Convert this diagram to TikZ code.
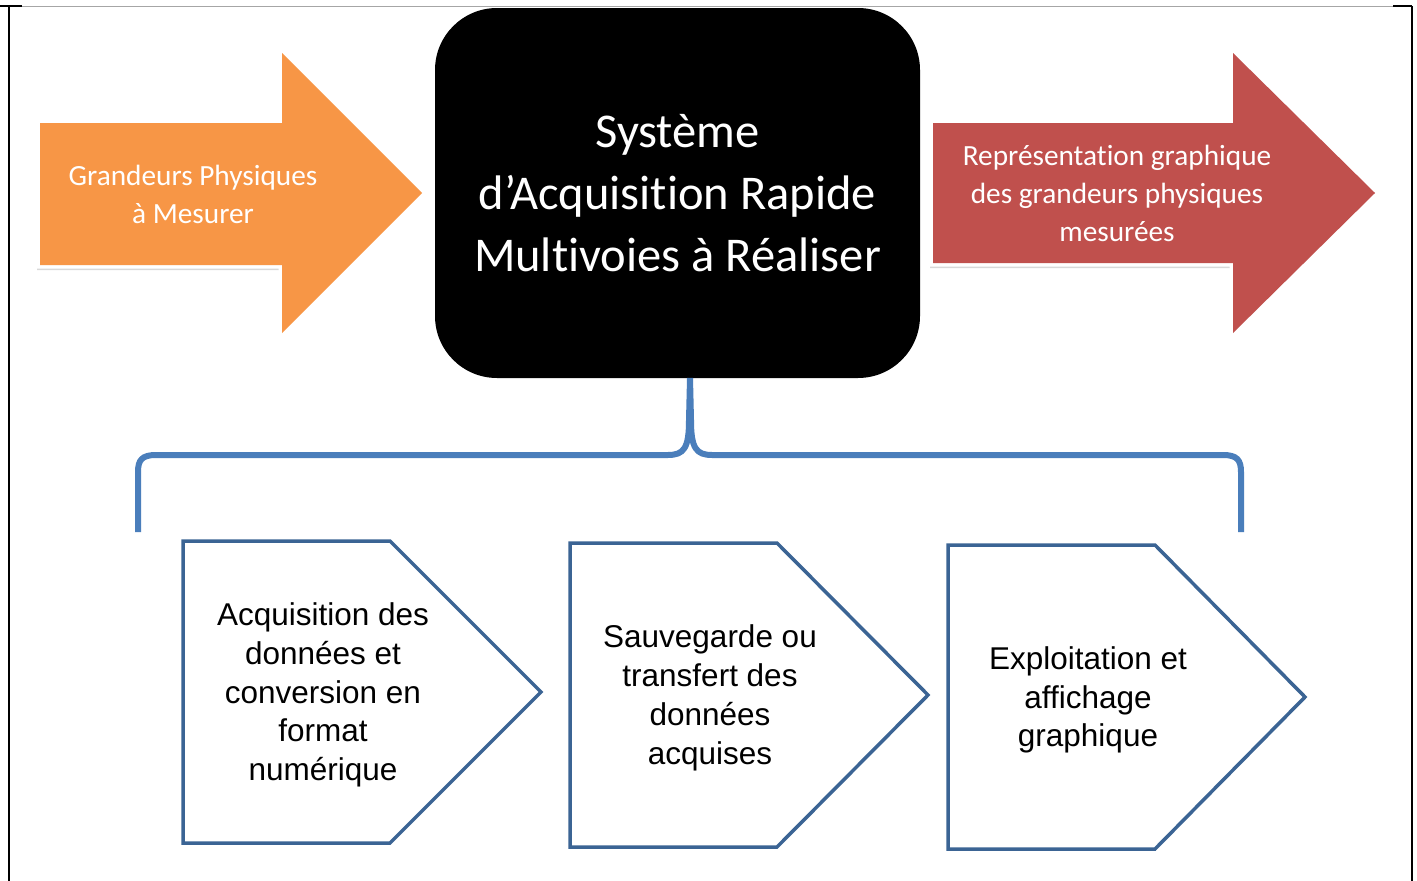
\documentclass[tikz,border=0pt]{standalone}
\usepackage{fontspec}
\setmainfont{Carlito}[Ligatures=NoCommon]
\newfontfamily\arialf{Liberation Sans}
\usetikzlibrary{shadows}
\definecolor{orangeA}{HTML}{F79646}
\definecolor{redA}{HTML}{C0504D}
\definecolor{braceblue}{HTML}{4A7EBB}
\definecolor{pentblue}{HTML}{3B6494}
\tikzset{
  bigarrow/.style={draw=white, line width=7pt, line join=miter,
    drop shadow={opacity=0.3, shadow xshift=-3pt, shadow yshift=-5pt}},
  arrowtext/.style={text=white, font=\fontsize{29.3}{38}\selectfont, align=center},
  sysbox/.style={fill=black, rounded corners=62pt, minimum width=485pt, minimum height=370pt,
    text=white, font=\fontsize{48.5}{62}\selectfont, align=center, inner sep=0pt},
  pent/.style={draw=pentblue, line width=3.5pt, fill=white, line join=miter},
  penttext/.style={font=\arialf\fontsize{31.5}{38.8}\selectfont, align=center, text=black},
  bracestyle/.style={draw=braceblue, line width=6pt, line cap=butt},
  frameline/.style={draw=black, line width=2pt}
}
\begin{document}
\begin{tikzpicture}[x=1pt,y=-1pt]
\useasboundingbox (0,0) rectangle (1417,881);
\fill[white] (0,0) rectangle (1417,881);
% frame
\draw[gray!70, line width=1pt] (9,6) -- (1412,6);
\draw[frameline] (0,6) -- (22,6);
\draw[frameline] (1393,6) -- (1412,6);
\draw[frameline] (9,6) -- (9,881);
\draw[frameline] (1412,6) -- (1412,881);
% orange arrow
\path[bigarrow, fill=orangeA] (40,123) -- (282,123) -- (282,53) -- (422,193) -- (282,333) -- (282,265) -- (40,265) -- cycle;
\fill[orangeA] (40,123) -- (282,123) -- (282,53) -- (422,193) -- (282,333) -- (282,265) -- (40,265) -- cycle;
\node[arrowtext] (inp) at (193,194) {Grandeurs Physiques\\à Mesurer};
% red arrow
\path[bigarrow, fill=redA] (933,123) -- (1233,123) -- (1233,53) -- (1375,193) -- (1233,333) -- (1233,263) -- (933,263) -- cycle;
\fill[redA] (933,123) -- (1233,123) -- (1233,53) -- (1375,193) -- (1233,333) -- (1233,263) -- (933,263) -- cycle;
\node[arrowtext] (out) at (1117,193) {Représentation graphique\\des grandeurs physiques\\mesurées};
% central box
\node[sysbox] (sys) at (677.5,193) {Système\\d’Acquisition Rapide\\Multivoies à Réaliser};
% brace
\coordinate (bt) at (690,378);
\coordinate (bl) at (138,532);
\coordinate (br) at (1241,532);
\draw[bracestyle] (bl) -- (138,472) .. controls (138,460) and (142,455) .. (156,455)
  -- (668,455) .. controls (684,455) and (689,448) .. (689,420) -- (bt);
\draw[bracestyle] (br) -- (1241,472) .. controls (1241,460) and (1237,455) .. (1223,455)
  -- (712,455) .. controls (696,455) and (691,448) .. (691,420) -- (bt);
% pentagons
\draw[pent] (183,541) -- (390,541) -- (541,692) -- (390,843) -- (183,843) -- cycle;
\node[penttext] (p1) at (323,695) {Acquisition des\\données et\\conversion en\\format\\numérique};
\draw[pent] (570,543) -- (777,543) -- (928,695) -- (777,847) -- (570,847) -- cycle;
\node[penttext] (p2) at (710,698) {Sauvegarde ou\\transfert des\\données\\acquises};
\draw[pent] (948,545) -- (1155,545) -- (1305,697) -- (1155,849) -- (948,849) -- cycle;
\node[penttext] (p3) at (1088,700) {Exploitation et\\affichage\\graphique};
\end{tikzpicture}
\end{document}
